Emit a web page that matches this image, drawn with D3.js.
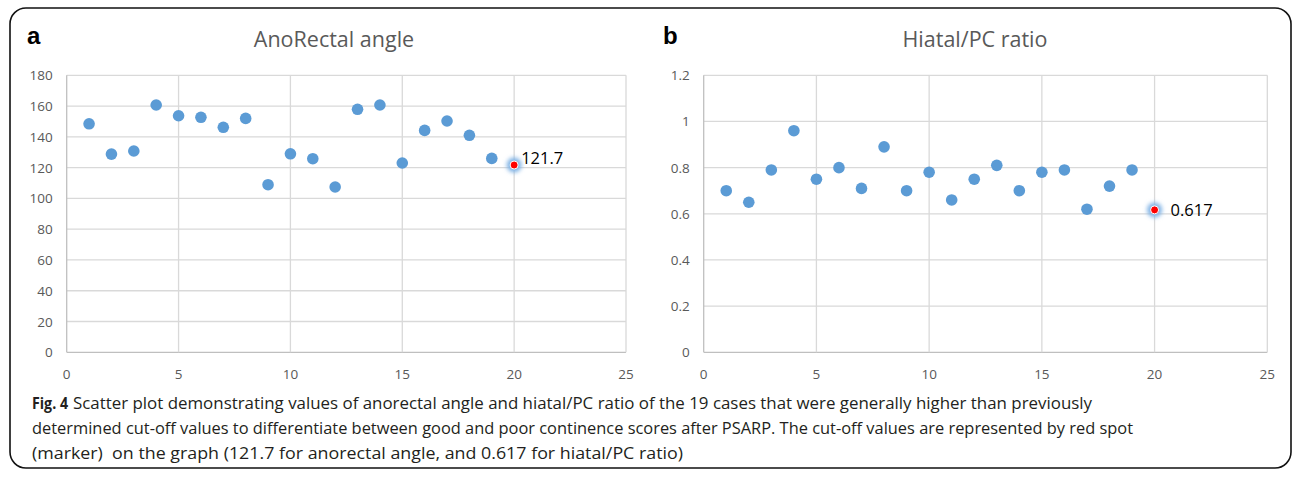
<!DOCTYPE html>
<html>
<head>
<meta charset="utf-8">
<script src="https://cdn.jsdelivr.net/npm/d3@7"></script>
<style>
  body { margin: 0; background: #fff; }
  svg { display: block; }
</style>
</head>
<body>
<svg width="1292" height="477"></svg>
<script>
// case numbers on the x axis
const cases = d3.range(1, 20);

// panel a: anorectal angle per case
const angleValues = [148.5, 128.8, 130.8, 160.7, 153.7, 152.7, 146.2, 152, 108.9, 129,
  125.8, 107.4, 157.9, 160.7, 123, 144.2, 150.3, 141, 126];
const angleCutoff = { x: 20, y: 121.7, label: "121.7" };
const angleTicks = [0, 20, 40, 60, 80, 100, 120, 140, 160, 180];

// panel b: hiatal/PC ratio per case
const ratioValues = [0.70, 0.65, 0.79, 0.96, 0.75, 0.80, 0.71, 0.89, 0.70, 0.78,
  0.66, 0.75, 0.81, 0.70, 0.78, 0.79, 0.62, 0.72, 0.79];
const ratioCutoff = { x: 20, y: 0.617, label: "0.617" };
const ratioTicks = [0, 0.2, 0.4, 0.6, 0.8, 1, 1.2];

const xTicks = [0, 5, 10, 15, 20, 25];

const svg = d3.select('svg');

// glow for the cut-off marker
const defs = svg.append('defs');
defs.append('filter').attr('id', 'glow')
  .attr('x', '-100%').attr('y', '-100%').attr('width', '300%').attr('height', '300%')
  .append('feGaussianBlur').attr('stdDeviation', 2.2);

// outer frame
svg.append('rect')
  .attr('x', 10).attr('y', 8)
  .attr('width', 1281).attr('height', 460)
  .attr('rx', 16)
  .attr('fill', 'none')
  .attr('stroke', '#111')
  .attr('stroke-width', 1.6);

function drawPanel(opts) {
  const g = svg.append('g');
  const x = d3.scaleLinear().domain([0, 25]).range([opts.left, opts.right]);
  const y = d3.scaleLinear().domain([0, opts.yMax]).range([352.3, 75.3]);

  // horizontal gridlines
  g.selectAll('.hgrid').data(opts.yTicks).join('line')
    .attr('x1', opts.left).attr('x2', opts.right)
    .attr('y1', d => y(d)).attr('y2', d => y(d))
    .attr('stroke', d => d === 0 ? '#bfbfbf' : '#d9d9d9')
    .attr('stroke-width', 1.3);

  // vertical gridlines
  g.selectAll('.vgrid').data(xTicks).join('line')
    .attr('x1', d => x(d)).attr('x2', d => x(d))
    .attr('y1', y(opts.yMax)).attr('y2', y(0))
    .attr('stroke', d => d === 0 ? '#bfbfbf' : '#d9d9d9')
    .attr('stroke-width', 1.3);

  // y tick labels
  g.selectAll('.ylab').data(opts.yTicks).join('text')
    .attr('x', opts.left - 14)
    .attr('y', d => y(d) + 5)
    .attr('text-anchor', 'end')
    .attr('font-family', 'Open Sans, sans-serif')
    .attr('font-size', 13.5)
    .attr('fill', '#595959')
    .text(d => d);

  // x tick labels
  g.selectAll('.xlab').data(xTicks).join('text')
    .attr('x', d => x(d))
    .attr('y', 379)
    .attr('text-anchor', 'middle')
    .attr('font-family', 'Open Sans, sans-serif')
    .attr('font-size', 13.5)
    .attr('fill', '#595959')
    .text(d => d);

  // title
  g.append('text')
    .attr('x', opts.titleX).attr('y', 47)
    .attr('text-anchor', 'middle')
    .attr('font-family', 'Open Sans, sans-serif')
    .attr('font-size', 21.5)
    .attr('fill', '#595959')
    .text(opts.title);

  // panel letter
  g.append('text')
    .attr('x', opts.letterX).attr('y', 44)
    .attr('font-family', 'Liberation Sans, Arial, sans-serif')
    .attr('font-weight', 'bold')
    .attr('font-size', 24)
    .attr('fill', '#000')
    .text(opts.letter);

  // points
  g.selectAll('.pt').data(opts.values).join('circle')
    .attr('cx', (d, i) => x(cases[i]))
    .attr('cy', d => y(d))
    .attr('r', 5.8)
    .attr('fill', '#5b9bd5');

  // cut-off marker
  const c = opts.cutoff;
  g.append('circle')
    .attr('cx', x(c.x)).attr('cy', y(c.y)).attr('r', 7.5)
    .attr('fill', '#7fb2e5').attr('filter', 'url(#glow)');
  g.append('circle')
    .attr('cx', x(c.x)).attr('cy', y(c.y)).attr('r', 4)
    .attr('fill', '#ff0000').attr('stroke', '#fff').attr('stroke-width', 1);
  g.append('text')
    .attr('x', x(c.x) + opts.labelDx).attr('y', y(c.y) + opts.labelDy)
    .attr('font-family', 'Open Sans, sans-serif')
    .attr('font-size', 16.5)
    .attr('fill', '#000')
    .text(c.label);
}

drawPanel({
  left: 66.7, right: 626, yMax: 180, yTicks: angleTicks, values: angleValues,
  cutoff: angleCutoff, title: 'AnoRectal angle', titleX: 334, letter: 'a', letterX: 27,
  labelDx: 7, labelDy: -1
});

drawPanel({
  left: 703.7, right: 1267.3, yMax: 1.2, yTicks: ratioTicks, values: ratioValues,
  cutoff: ratioCutoff, title: 'Hiatal/PC ratio', titleX: 975, letter: 'b', letterX: 663,
  labelDx: 16, labelDy: 6
});

// caption
const caption = svg.append('g')
  .attr('font-family', 'Open Sans, sans-serif')
  .attr('font-size', 16.5)
  .attr('fill', '#231f20');

caption.append('text')
  .attr('x', 32).attr('y', 409)
  .attr('font-weight', 'bold')
  .attr('textLength', 36).attr('lengthAdjust', 'spacingAndGlyphs')
  .text('Fig. 4');

const captionLines = [
  { x: 73, y: 409, w: 1019, t: 'Scatter plot demonstrating values of anorectal angle and hiatal/PC ratio of the 19 cases that were generally higher than previously' },
  { x: 32, y: 434, w: 1101, t: 'determined cut-off values to differentiate between good and poor continence scores after PSARP. The cut-off values are represented by red spot' },
  { x: 32, y: 459, w: 651, t: '(marker)  on the graph (121.7 for anorectal angle, and 0.617 for hiatal/PC ratio)' }
];

caption.selectAll('.cap').data(captionLines).join('text')
  .attr('x', d => d.x).attr('y', d => d.y)
  .attr('textLength', d => d.w).attr('lengthAdjust', 'spacingAndGlyphs')
  .attr('xml:space', 'preserve')
  .text(d => d.t);
</script>
</body>
</html>
